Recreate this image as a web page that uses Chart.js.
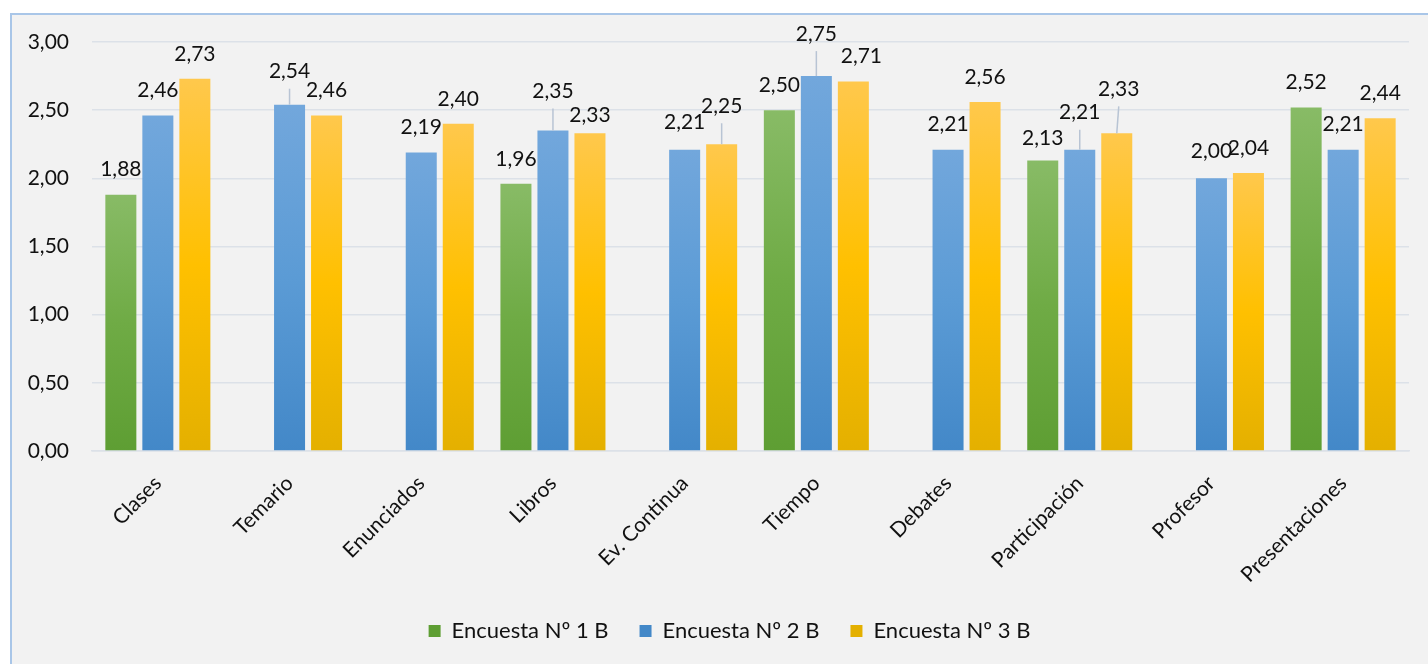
<!DOCTYPE html>
<html>
<head>
<meta charset="utf-8">
<title>Encuestas</title>
<script src="https://cdn.jsdelivr.net/npm/chart.js@4.4.1/dist/chart.umd.min.js"></script>
<style>
  body { margin: 0; background: #fff; }
  #box {
    position: absolute; left: 10px; top: 13px;
    width: 1430px; height: 660px;
    background: #f2f2f2;
    border-left: 2px solid #a9c6e8;
    border-top: 2px solid #a9c6e8;
    overflow: hidden;
  }
  #chart { display: block; }
</style>
</head>
<body>
<div id="box"><canvas id="chart" width="1416" height="649"></canvas></div>
<script>
const categories = ['Clases', 'Temario', 'Enunciados', 'Libros', 'Ev. Continua',
                    'Tiempo', 'Debates', 'Participación', 'Profesor', 'Presentaciones'];
const encuesta1 = [1.88, null, null, 1.96, null, 2.50, null, 2.13, null, 2.52];
const encuesta2 = [2.46, 2.54, 2.19, 2.35, 2.21, 2.75, 2.21, 2.21, 2.00, 2.21];
const encuesta3 = [2.73, 2.46, 2.40, 2.33, 2.25, 2.71, 2.56, 2.33, 2.04, 2.44];
const seriesNames = ['Encuesta Nº 1 B', 'Encuesta Nº 2 B', 'Encuesta Nº 3 B'];
const yTicks = [0, 0.5, 1, 1.5, 2, 2.5, 3];

const FONT = 'Lato';
const fmt = v => v.toFixed(2).replace('.', ',');

// light top -> base -> darker bottom, one gradient per bar
const palette = [
  ['#88bb66', '#6fab45', '#5e9e33'],
  ['#72a7dc', '#5b9bd5', '#4388c8'],
  ['#ffc84c', '#ffc000', '#e4b000']
];

function barFill(stops) {
  return ctx => {
    const chart = ctx.chart;
    if (ctx.type !== 'data' || !chart.chartArea || ctx.raw == null) return stops[1];
    const y = chart.scales.y;
    const top = y.getPixelForValue(ctx.raw);
    const bottom = y.getPixelForValue(0);
    const g = chart.ctx.createLinearGradient(0, top, 0, bottom);
    g.addColorStop(0, stops[0]);
    g.addColorStop(0.5, stops[1]);
    g.addColorStop(1, stops[2]);
    return g;
  };
}

// labels that were dragged away from their bar, with a leader line
const labelNudge = {
  '1-1': { dy: -8, line: true },
  '1-3': { dy: -14, line: true },
  '2-3': { dy: 7 },
  '1-4': { dy: -2 },
  '2-4': { dy: -13, line: true },
  '1-5': { dy: -17, line: true },
  '2-5': { dx: 8 },
  '0-7': { dy: 3 },
  '1-7': { dy: -12, line: true },
  '2-7': { dx: 2, dy: -19, line: true },
  '1-8': { dy: -2 }
};

const valueLabels = {
  id: 'valueLabels',
  afterDatasetsDraw(chart) {
    const ctx = chart.ctx;
    ctx.save();
    ctx.font = '21px ' + FONT;
    ctx.textAlign = 'center';
    ctx.textBaseline = 'middle';
    chart.data.datasets.forEach((ds, di) => {
      chart.getDatasetMeta(di).data.forEach((bar, i) => {
        const v = ds.data[i];
        if (v == null) return;
        const n = labelNudge[di + '-' + i] || {};
        const x = bar.x + (n.dx || 0);
        const y = bar.y - 25 + (n.dy || 0);
        if (n.line) {
          ctx.strokeStyle = '#b8c4d4';
          ctx.lineWidth = 1.5;
          ctx.beginPath();
          ctx.moveTo(x, y + 17);
          ctx.lineTo(bar.x, bar.y);
          ctx.stroke();
        }
        ctx.fillStyle = '#111';
        ctx.fillText(fmt(v), x, y);
      });
    });
    ctx.restore();
  }
};

const data = {
  labels: categories,
  datasets: [encuesta1, encuesta2, encuesta3].map((values, k) => ({
    label: seriesNames[k],
    data: values,
    backgroundColor: barFill(palette[k]),
    borderWidth: 0,
    categoryPercentage: 0.843,
    barPercentage: 0.838
  }))
};

new Chart(document.getElementById('chart'), {
  type: 'bar',
  data: data,
  plugins: [valueLabels],
  options: {
    responsive: false,
    animation: false,
    // the left padding keeps the legend centred under the bars
    layout: { padding: { top: 27, right: 19, bottom: 12, left: 38 } },
    plugins: {
      tooltip: { enabled: false },
      legend: {
        position: 'bottom',
        labels: {
          font: { family: FONT, size: 22 },
          color: '#111',
          boxWidth: 12,
          boxHeight: 12,
          padding: 31
        }
      }
    },
    scales: {
      y: {
        min: 0,
        max: 3,
        afterBuildTicks: s => { s.ticks = yTicks.map(v => ({ value: v })); },
        afterFit: s => {
          s.width = 42;
          s.paddingTop = 12;
          s.paddingBottom = 12;
          // tick labels reach into the padding, so don't clip them to the axis box
          s._computeLabelArea = () => undefined;
        },
        ticks: {
          callback: v => fmt(v),
          font: { family: FONT, size: 21 },
          color: '#111',
          padding: 23
        },
        grid: { color: '#dce1e8', lineWidth: 1.5, drawTicks: false },
        border: { display: false }
      },
      x: {
        afterFit: s => { s.height = 138; },
        ticks: {
          font: { family: FONT, size: 21 },
          color: '#111',
          minRotation: 45,
          maxRotation: 45,
          padding: 20
        },
        grid: { display: false, drawTicks: false },
        border: { display: true, color: '#dce1e8', width: 1.5 }
      }
    }
  }
});
</script>
</body>
</html>
